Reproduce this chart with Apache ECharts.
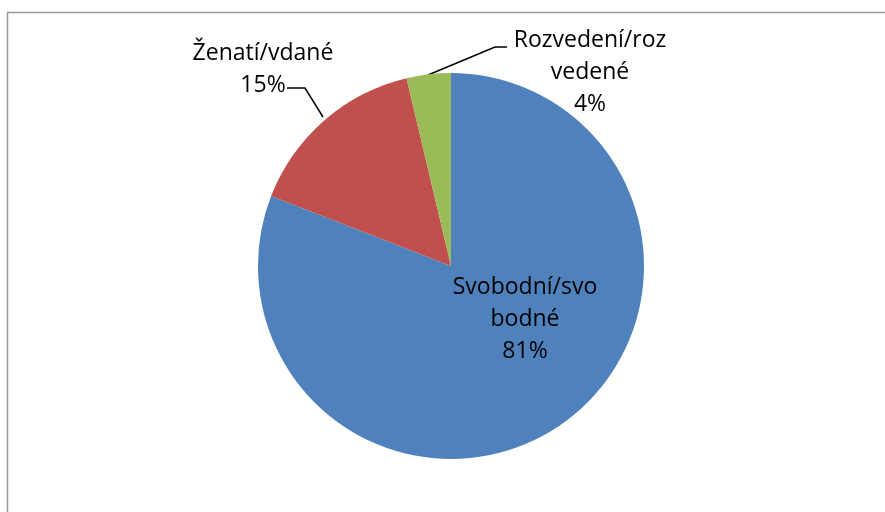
<!DOCTYPE html>
<html>
<head>
<meta charset="utf-8">
<script src="https://cdn.jsdelivr.net/npm/echarts@6/dist/echarts.min.js"></script>
<style>
  html, body { margin: 0; padding: 0; background: #fff; }
  #chart { width: 885px; height: 512px; }
</style>
</head>
<body>
<div id="chart"></div>
<script>
// data
var categories = ['Svobodní/svobodné', 'Ženatí/vdané', 'Rozvedení/rozvedené'];
var labelTexts = ['Svobodní/svo\nbodné', 'Ženatí/vdané', 'Rozvedení/roz\nvedené'];
var values = [80.9, 15.4, 3.7];
var colors = ['#4f81bd', '#c0504d', '#9bbb59'];

var myChart = echarts.init(document.getElementById('chart'));

var pieData = [];
for (var i = 0; i < categories.length; i++) {
  pieData.push({ name: categories[i], value: values[i], itemStyle: { color: colors[i] } });
}

var option = {
  backgroundColor: '#fff',
  animation: false,
  graphic: [
    // chart area frame (only top and left edge visible)
    { type: 'line', shape: { x1: 7, y1: 12.5, x2: 885, y2: 12.5 }, style: { stroke: '#999', lineWidth: 1.5 } },
    { type: 'line', shape: { x1: 7.5, y1: 12, x2: 7.5, y2: 512 }, style: { stroke: '#999', lineWidth: 1.5 } }
  ],
  series: [
    {
      type: 'pie',
      center: [451, 266],
      radius: 193,
      startAngle: 90,
      clockwise: true,
      percentPrecision: 0,
      data: pieData,
      label: {
        show: true,
        position: 'outside',
        color: '#000',
        fontFamily: 'Open Sans, sans-serif',
        fontSize: 23,
        lineHeight: 32,
        align: 'center',
        formatter: function (p) {
          return labelTexts[p.dataIndex] + '\n' + p.percent + '%';
        }
      },
      labelLine: {
        show: true,
        lineStyle: { color: '#000', width: 1.5 }
      },
      emphasis: { disabled: true },
      labelLayout: function (p) {
        if (p.dataIndex === 0) {
          return { x: 525, y: 319, align: 'center', verticalAlign: 'middle' };
        }
        if (p.dataIndex === 1) {
          return {
            x: 263, y: 69, align: 'center', verticalAlign: 'middle',
            labelLinePoints: [[323, 117], [305, 88], [287, 88]]
          };
        }
        return {
          x: 590, y: 72, align: 'center', verticalAlign: 'middle',
          labelLinePoints: [[428, 75], [495, 47], [507, 47]]
        };
      }
    }
  ]
};

myChart.setOption(option);
</script>
</body>
</html>
